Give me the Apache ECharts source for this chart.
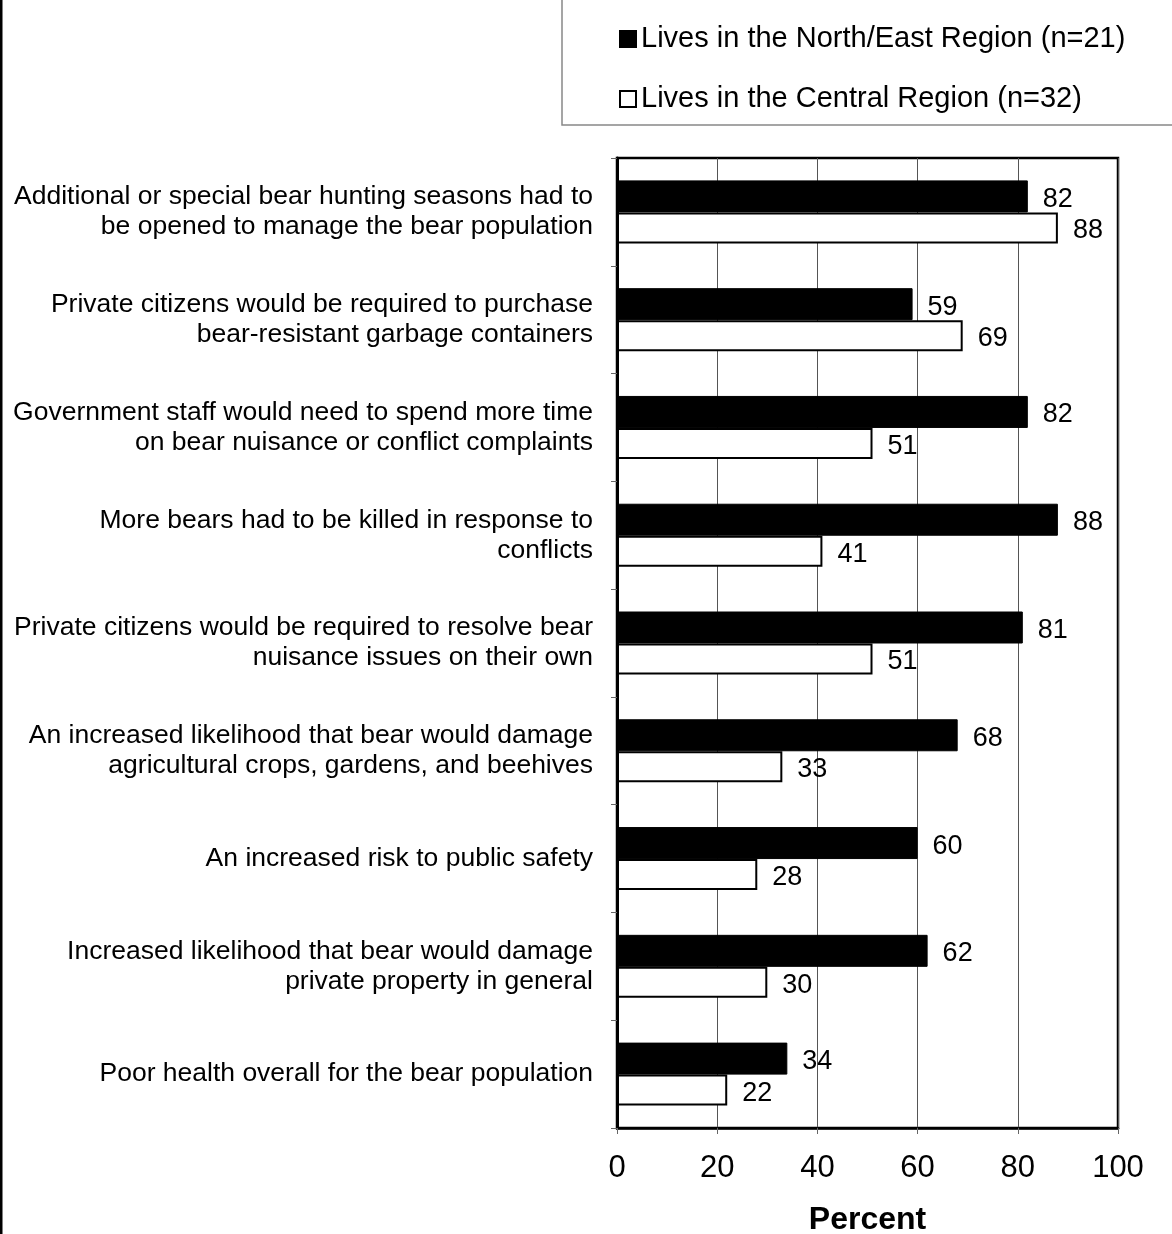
<!DOCTYPE html>
<html>
<head>
<meta charset="utf-8">
<script src="https://cdn.jsdelivr.net/npm/echarts@6/dist/echarts.min.js"></script>
<style>
html,body{margin:0;padding:0;background:#fff;}
#chart{width:1172px;height:1234px;}
</style>
</head>
<body>
<div id="chart"></div>
<script>
const categories = [
  "Additional or special bear hunting seasons had to\nbe opened to manage the bear population",
  "Private citizens would be required to purchase\nbear-resistant garbage containers",
  "Government staff would need to spend more time\non bear nuisance or conflict complaints",
  "More bears had to be killed in response to\nconflicts",
  "Private citizens would be required to resolve bear\nnuisance issues on their own",
  "An increased likelihood that bear would damage\nagricultural crops, gardens, and beehives",
  "An increased risk to public safety",
  "Increased likelihood that bear would damage\nprivate property in general",
  "Poor health overall for the bear population"
];
const northEast = [82, 59, 82, 88, 81, 68, 60, 62, 34];
const central = [88, 69, 51, 41, 51, 33, 28, 30, 22];
const seriesNames = ["Lives in the North/East Region (n=21)", "Lives in the Central Region (n=32)"];
const xTicks = [0, 20, 40, 60, 80, 100];
const axisTitle = "Percent";

const font = "'Liberation Sans', Arial, sans-serif";
const chart = echarts.init(document.getElementById('chart'), null, {renderer: 'canvas'});
const labelStyle = {show: true, position: 'right', distance: 15, offset: [0, 3], fontSize: 27, color: '#000', fontFamily: font};
chart.setOption({
  animation: false,
  textStyle: {fontFamily: font},
  graphic: [
    {type: 'rect', shape: {x: 562, y: -2, width: 614, height: 127}, style: {fill: '#fff', stroke: '#888', lineWidth: 1.5}, z: 0},
    {type: 'line', shape: {x1: 1, y1: 0, x2: 1, y2: 1234}, style: {stroke: '#000', lineWidth: 3}}
  ],
  legend: {
    orient: 'vertical',
    left: 614,
    top: 19,
    itemWidth: 16,
    itemHeight: 16,
    itemGap: 30,
    icon: 'rect',
    textStyle: {fontSize: 29, color: '#000', fontFamily: font, lineHeight: 30},
    data: seriesNames,
    z: 5
  },
  grid: {left: 617, right: 54, top: 158, bottom: 106, show: true, borderColor: '#000', borderWidth: 2.5,
    containLabel: false, outerBoundsMode: 'none'},
  xAxis: {
    type: 'value', min: 0, max: 100, interval: 20,
    name: axisTitle, nameLocation: 'middle', nameGap: 76,
    nameTextStyle: {fontSize: 32, fontWeight: 'bold', color: '#000', fontFamily: font},
    axisLabel: {fontSize: 31, color: '#000', margin: 25, fontFamily: font,
      formatter: v => xTicks.includes(v) ? String(v) : ''},
    axisLine: {show: true, lineStyle: {color: '#000', width: 2.5}},
    axisTick: {show: true, length: 6, lineStyle: {color: '#666'}},
    splitLine: {show: true, lineStyle: {color: '#555', width: 1}}
  },
  yAxis: {
    type: 'category', inverse: true, data: categories,
    axisLabel: {fontSize: 26.5, lineHeight: 30, color: '#000', margin: 24, align: 'right', fontFamily: font, padding: [5, 0, 0, 0]},
    axisLine: {show: true, lineStyle: {color: '#000', width: 3}},
    axisTick: {show: true, length: 6, lineStyle: {color: '#666'}}
  },
  series: [
    {name: seriesNames[0], type: 'bar', data: northEast, barWidth: 32, barGap: '0%',
      itemStyle: {color: '#000', borderColor: '#000', borderWidth: 1}, label: labelStyle},
    {name: seriesNames[1], type: 'bar', data: central, barWidth: 31, barGap: '0%',
      itemStyle: {color: '#fff', borderColor: '#000', borderWidth: 2}, label: labelStyle}
  ]
});
</script>
</body>
</html>
